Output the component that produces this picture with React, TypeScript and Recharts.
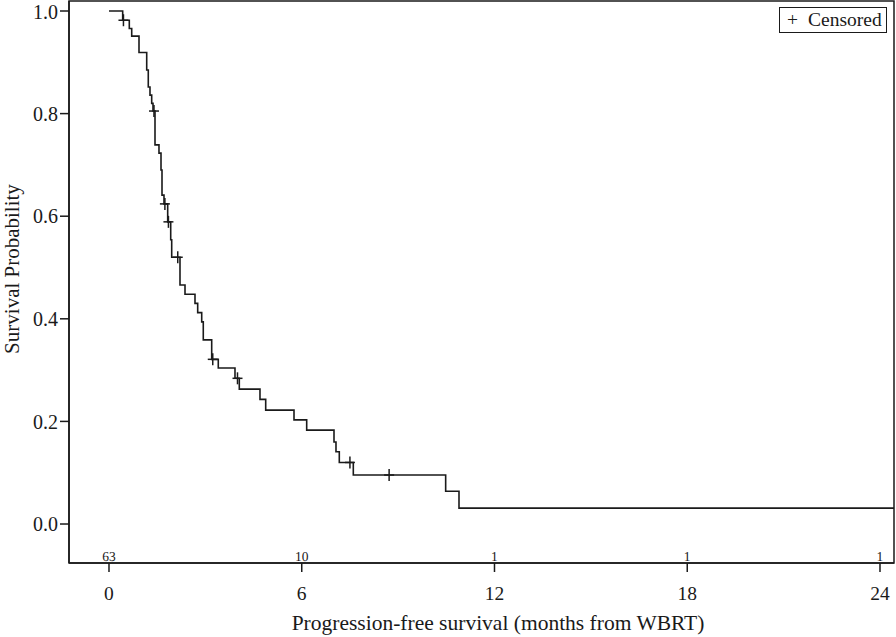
import React from 'react';
import { ComposedChart, Line, Scatter, XAxis, YAxis, ReferenceArea } from 'recharts';

const survivalTimes = [0, 0.426, 0.632, 0.707, 0.934, 1.174, 1.223, 1.276, 1.329, 1.37, 1.432, 1.556, 1.619, 1.65, 1.712, 1.827, 1.921, 1.952, 2.21, 2.366, 2.677, 2.761, 2.886, 2.935, 3.197, 3.402, 3.922, 4.056, 4.7, 4.878, 5.759, 6.154, 7.004, 7.066, 7.169, 7.605, 10.48, 10.895, 24.44];
const survivalProbs = [1.0, 0.982, 0.966, 0.951, 0.919, 0.885, 0.852, 0.836, 0.82, 0.805, 0.739, 0.723, 0.69, 0.641, 0.624, 0.589, 0.554, 0.52, 0.466, 0.448, 0.43, 0.412, 0.394, 0.359, 0.321, 0.304, 0.284, 0.263, 0.243, 0.222, 0.203, 0.183, 0.16, 0.141, 0.12, 0.0955, 0.064, 0.031, 0.031];

const censorTimes = [0.45, 1.4, 1.74, 1.85, 2.14, 3.23, 4.0, 7.5, 8.72];
const censorProbs = [0.982, 0.805, 0.624, 0.589, 0.52, 0.321, 0.284, 0.12, 0.0955];

const xTicks = [0, 6, 12, 18, 24];
const atRisk = [63, 10, 1, 1, 1];
const yTicks = [0, 0.2, 0.4, 0.6, 0.8, 1.0];

const X_DOMAIN: [number, number] = [-1.245, 24.436];
const Y_DOMAIN: [number, number] = [-0.076, 1.0195];

const FONT = '"Liberation Serif", "Times New Roman", serif';
const INK = '#1a1a1a';

const curveData = survivalTimes.map((t, i) => ({ t, s: survivalProbs[i] }));
const censorData = censorTimes.map((t, i) => ({ t, s: censorProbs[i] }));

const XTick = (props: any) => {
  const { x, y, payload } = props;
  const idx = xTicks.indexOf(payload.value);
  return (
    <g>
      <text x={x} y={y - 13.5} textAnchor="middle" fontSize={13.5} fontFamily={FONT} fill={INK} style={{ textRendering: 'geometricPrecision' }}>
        {idx >= 0 ? atRisk[idx] : ''}
      </text>
      <text x={x} y={y + 25.5} textAnchor="middle" fontSize={19.5} fontFamily={FONT} fill={INK}>
        {payload.value}
      </text>
    </g>
  );
};

const PlusShape = (props: any) => {
  const { cx, cy } = props;
  return (
    <g>
      <line x1={cx - 5} x2={cx + 5} y1={cy} y2={cy} stroke={INK} strokeWidth={1.5} />
      <line x1={cx} x2={cx} y1={cy - 6} y2={cy + 6} stroke={INK} strokeWidth={1.5} />
    </g>
  );
};

export default function App() {
  return (
    <div style={{ position: 'absolute', left: 0, top: 0, width: 896, height: 637, background: '#fff' }}>
      <ComposedChart width={896} height={637} margin={{ top: 1, right: 2, left: 0, bottom: 0 }}>
        <XAxis
          type="number"
          dataKey="t"
          domain={X_DOMAIN}
          ticks={xTicks}
          allowDataOverflow
          height={74}
          tickSize={9}
          stroke={INK}
          strokeWidth={1.5}
          tick={<XTick />}
          label={{
            content: () => (
              <text x={498} y={630} textAnchor="middle" fontSize={21.5} fontFamily={FONT} fill={INK}>
                Progression-free survival (months from WBRT)
              </text>
            ),
          }}
        />
        <YAxis
          type="number"
          dataKey="s"
          domain={Y_DOMAIN}
          ticks={yTicks}
          allowDataOverflow
          width={69}
          tickSize={9}
          stroke={INK}
          strokeWidth={1.5}
          tickFormatter={(v: number) => v.toFixed(1)}
          tick={{ fontSize: 20, fontFamily: FONT, fill: INK }}
          label={{
            content: () => (
              <text
                x={19}
                y={269}
                transform="rotate(-90, 19, 269)"
                textAnchor="middle"
                fontSize={21}
                fontFamily={FONT}
                fill={INK}
              >
                Survival Probability
              </text>
            ),
          }}
        />
        <ReferenceArea
          x1={X_DOMAIN[0]}
          x2={X_DOMAIN[1]}
          y1={Y_DOMAIN[0]}
          y2={Y_DOMAIN[1]}
          fill="none"
          stroke={INK}
          strokeWidth={1.5}
          ifOverflow="visible"
        />
        <Line
          data={curveData}
          dataKey="s"
          type="stepAfter"
          stroke={INK}
          strokeWidth={1.6}
          dot={false}
          activeDot={false}
          isAnimationActive={false}
        />
        <Scatter data={censorData} dataKey="s" shape={<PlusShape />} isAnimationActive={false} />
      </ComposedChart>
      <div
        style={{
          position: 'absolute',
          left: 779,
          top: 7,
          width: 106,
          height: 24,
          border: '1.5px solid #1a1a1a',
          fontFamily: FONT,
          fontSize: 19.5,
          color: INK,
          display: 'flex',
          alignItems: 'center',
          lineHeight: '24px',
          whiteSpace: 'nowrap',
        }}
      >
        <span style={{ marginLeft: 7, width: 21 }}>+</span>
        <span>Censored</span>
      </div>
    </div>
  );
}
